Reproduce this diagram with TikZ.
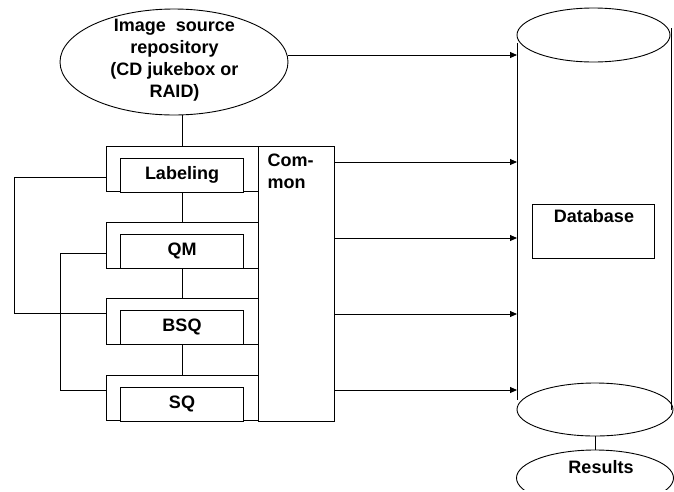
\documentclass[tikz,border=0pt]{standalone}
\usepackage{fontspec}
\setmainfont{Liberation Sans}
\usetikzlibrary{shapes.geometric,arrows.meta}
\tikzset{
  every node/.style={font=\fontsize{18}{22}\selectfont\bfseries},
  ln/.style={line width=0.9pt},
  obox/.style={draw, ln, minimum width=152pt, minimum height=45.5pt, inner sep=0pt},
  ibox/.style={draw, ln, fill=white, minimum width=123pt, minimum height=34pt, inner sep=0pt},
  oval/.style={draw, ln, ellipse, inner sep=0pt},
  arr/.style={ln, -{Triangle[length=7pt,width=6pt]}},
}
\begin{document}
\begin{tikzpicture}[x=1pt,y=-1pt]
\useasboundingbox (0,0) rectangle (674,491);

% image source repository
\node[oval, minimum width=228pt, minimum height=106pt] (src) at (174,62) {};
\node[align=center, inner sep=0pt] (srctext) at (174.5,60) {Image~ source\\repository\\(CD jukebox or\\RAID)};

% processing modules: outer frames
\node[obox] (labO) at (182,169) {};
\node[obox] (qmO)  at (182,245.5) {};
\node[obox] (bsqO) at (182,321.5) {};
\node[obox] (sqO)  at (182,398) {};

% inner module boxes
\node[ibox] (lab) at (182,175) {Labeling};
\node[ibox] (qm)  at (182,251) {QM};
\node[ibox] (bsq) at (182,327) {BSQ};
\node[ibox] (sq)  at (182,404) {SQ};

% common block
\node[draw, ln, minimum width=76pt, minimum height=275pt, inner sep=0pt] (com) at (296,283.5) {};
\node[anchor=north west, align=left, inner sep=0pt] (comtext) at (267.5,154) {Com-\\mon};

% links between modules
\draw[ln] (labO.north) -- (labO.north |- src.south);
\draw[ln] (labO.south) -- (qmO.north);
\draw[ln] (qmO.south) -- (bsqO.north);
\draw[ln] (bsqO.south) -- (sqO.north);

\coordinate (l1) at (14,0);
\coordinate (l2) at (60,0);
\draw[ln] (labO.west |- 0,177) -- (l1 |- 0,177) -- (l1 |- 0,313) -- (bsqO.west |- 0,313);
\draw[ln] (qmO.west |- 0,253) -- (l2 |- 0,253) -- (l2 |- 0,390) -- (sqO.west |- 0,390);

% database cylinder
\node[oval, minimum width=153pt, minimum height=54pt] (dbtop) at (593.5,35) {};
\node[oval, minimum width=156pt, minimum height=53pt] (dbbot) at (595,409.5) {};
\coordinate (cylL) at (517,43);
\coordinate (cylLb) at (517,400);
\coordinate (cylR) at (671,28);
\coordinate (cylRb) at (671,410);
\draw[ln] (cylL) -- (cylLb);
\draw[ln] (cylR) -- (cylRb);

\node[draw, ln, minimum width=122pt, minimum height=54pt, inner sep=0pt] (dbbox) at (593,231) {};
\node[anchor=north, inner sep=0pt] (dbtext) at (594,209) {Database};

% arrows into the database
\draw[arr] (src.east |- 0,55) -- (cylL |- 0,55);
\draw[arr] (com.east |- 0,162) -- (cylL |- 0,162);
\draw[arr] (com.east |- 0,238) -- (cylL |- 0,238);
\draw[arr] (com.east |- 0,314) -- (cylL |- 0,314);
\draw[arr] (com.east |- 0,390) -- (cylL |- 0,390);

% results
\begin{scope}
\clip (0,0) rectangle (674,489.5);
\node[oval, minimum width=157pt, minimum height=56pt] (res) at (595,478) {};
\end{scope}
\node[inner sep=0pt] (restext) at (601,467) {Results};
\draw[ln] (dbbot.south) -- (res.north);
\end{tikzpicture}
\end{document}
